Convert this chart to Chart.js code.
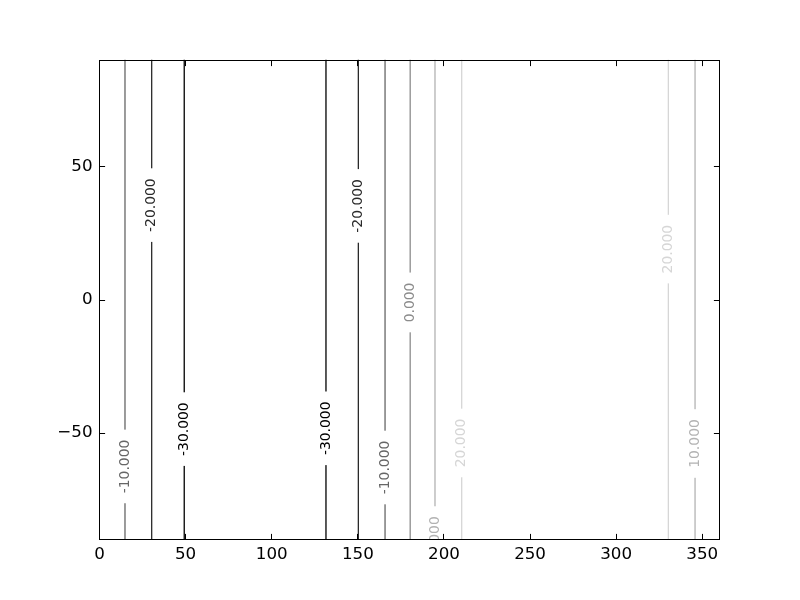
<!DOCTYPE html>
<html><head><meta charset="utf-8">
<script src="https://cdn.jsdelivr.net/npm/chart.js@4.4.1/dist/chart.umd.min.js"></script>
<style>html,body{margin:0;padding:0;background:#fff}canvas{display:block}</style>
</head><body>
<canvas id="c" width="800" height="600"></canvas>
<script>
// Contour line positions (x in data units), their level, and where each inline label sits (y in data units)
const contourX = [14.8, 30.3, 49.2, 131.5, 150.3, 165.8, 180.4, 194.8, 210.3, 330.3, 345.8];
const contourLevel = [-10, -20, -30, -30, -20, -10, 0, 10, 20, 20, 10];
const labelY = [-62.6, 35.4, -48.6, -48.3, 35.1, -63.0, -1.1, -90.4, -53.8, 18.9, -54.0];
const levelValues = [-30, -20, -10, 0, 10, 20];
const levelColors = ['#000000', '#2a2a2a', '#666666', '#8c8c8c', '#b3b3b3', '#d6d6d6'];
const xTicks = [0, 50, 100, 150, 200, 250, 300, 350];
const yTicks = [-50, 0, 50];
const xRange = [0, 360];
const yRange = [-90, 90];

const colorFor = lv => levelColors[levelValues.indexOf(lv)];

const datasets = contourX.map((cx, i) => ({
  data: [{x: cx, y: yRange[0]}, {x: cx, y: yRange[1]}],
  borderColor: colorFor(contourLevel[i]),
  borderWidth: 1.3,
  pointRadius: 0,
  showLine: true,
  fill: false
}));

const contourPlugin = {
  id: 'contourPlugin',
  afterDatasetsDraw(chart) {
    const {ctx, chartArea: a, scales: {x, y}} = chart;
    ctx.save();
    ctx.beginPath();
    ctx.rect(a.left, a.top, a.right - a.left, a.bottom - a.top);
    ctx.clip();
    ctx.font = '13.9px "DejaVu Sans"';
    contourX.forEach((cx, i) => {
      const px = x.getPixelForValue(cx);
      const py = y.getPixelForValue(labelY[i]);
      const txt = contourLevel[i].toFixed(3);
      const w = ctx.measureText(txt).width;
      ctx.fillStyle = '#ffffff';
      ctx.fillRect(px - 3, py - w / 2 - 10, 6, w + 20);
      ctx.save();
      ctx.translate(px, py);
      ctx.rotate(-Math.PI / 2);
      ctx.fillStyle = colorFor(contourLevel[i]);
      ctx.textAlign = 'center';
      ctx.textBaseline = 'middle';
      ctx.fillText(txt, 0, 0);
      ctx.restore();
    });
    ctx.restore();
  },
  afterDraw(chart) {
    const {ctx, chartArea: a, scales: {x, y}} = chart;
    ctx.save();
    ctx.strokeStyle = '#000';
    ctx.lineWidth = 1;
    const L = Math.round(a.left) - 0.5, R = Math.round(a.right) - 0.5;
    const T = Math.round(a.top) + 0.5, B = Math.round(a.bottom) - 0.5;
    ctx.strokeRect(L, T, R - L, B - T);
    const tl = 5.6;
    ctx.beginPath();
    x.ticks.forEach(t => {
      const px = Math.floor(x.getPixelForValue(t.value)) + 0.5;
      ctx.moveTo(px, B); ctx.lineTo(px, B - tl);
      ctx.moveTo(px, T); ctx.lineTo(px, T + tl);
    });
    y.ticks.forEach(t => {
      const py = Math.round(y.getPixelForValue(t.value)) + 0.5;
      ctx.moveTo(L, py); ctx.lineTo(L + tl, py);
      ctx.moveTo(R, py); ctx.lineTo(R - tl, py);
    });
    ctx.stroke();
    ctx.restore();
  }
};

new Chart(document.getElementById('c'), {
  type: 'scatter',
  data: {datasets},
  options: {
    responsive: false,
    animation: false,
    events: [],
    layout: {padding: {top: 59.5, right: 80.5, left: 0, bottom: 0}},
    plugins: {legend: {display: false}, tooltip: {enabled: false}},
    scales: {
      x: {
        type: 'linear', min: xRange[0], max: xRange[1],
        afterBuildTicks: s => { s.ticks = xTicks.map(v => ({value: v})); },
        afterFit: s => { s.height = 60.5; },
        grid: {display: false, drawTicks: false},
        border: {display: false},
        ticks: {
          color: '#000', padding: 5, maxRotation: 0, autoSkip: false,
          font: {family: '"DejaVu Sans"', size: 16.7},
          callback: v => String(v)
        }
      },
      y: {
        type: 'linear', min: yRange[0], max: yRange[1],
        afterBuildTicks: s => { s.ticks = yTicks.map(v => ({value: v})); },
        afterFit: s => { s.width = 99.5; },
        grid: {display: false, drawTicks: false},
        border: {display: false},
        ticks: {
          color: '#000', padding: 7, autoSkip: false,
          font: {family: '"DejaVu Sans"', size: 16.7},
          callback: v => String(v).replace('-', '\u2212')
        }
      }
    }
  },
  plugins: [contourPlugin]
});
</script>
</body></html>
